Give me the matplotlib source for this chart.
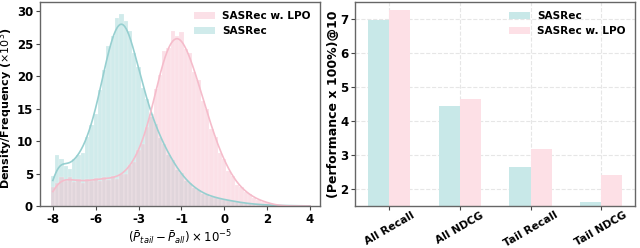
import numpy as np
import matplotlib
matplotlib.use("Agg")
import matplotlib.pyplot as plt
from matplotlib.patches import Patch

# ---- left panel: histogram of (P_tail - P_all), counts in thousands ----
bin_centers = np.round(np.arange(-8.0, 4.01, 0.2), 2)
sasrec_counts = [4.6, 7.8, 7.2, 6.1, 5.7, 7.3, 7.9, 8.2, 10.6, 12.4,
                 14.1, 17.9, 21.0, 24.6, 26.2, 28.9, 29.6, 28.4, 26.9, 23.6,
                 21.4, 18.2, 16.5, 13.7, 12.6, 10.4, 9.6, 7.8, 7.1, 5.6,
                 5.1, 3.9, 3.5, 2.8, 2.5, 1.9, 1.8, 1.4, 1.4, 1.1,
                 1.0, 0.9, 0.8, 0.6, 0.6, 0.4, 0.4, 0.3, 0.25, 0.2,
                 0.18, 0.14, 0.12, 0.1, 0.08, 0.07, 0.06, 0.05, 0.05, 0.04,
                 0.04]
lpo_counts = [3.0, 3.6, 4.5, 3.9, 4.4, 3.7, 4.2, 3.6, 4.1, 3.8,
              4.3, 3.9, 4.5, 4.0, 4.6, 4.2, 5.0, 5.0, 6.3, 6.8,
              8.6, 9.6, 12.2, 14.1, 18.0, 20.2, 23.8, 24.3, 26.9, 26.2,
              26.8, 24.1, 23.6, 20.6, 19.4, 16.1, 14.9, 11.8, 10.6, 8.1,
              7.2, 5.4, 4.6, 3.3, 2.9, 2.1, 1.8, 1.2, 1.0, 0.7,
              0.6, 0.3, 0.15, 0.07, 0.03, 0.02, 0.01, 0.01, 0.01, 0.0,
              0.0]
x_ticks = [-8, -6, -4, -2, 0, 2, 4]
x_ticklabels = ["-8", "-6", "-3", "-1", "0", "2", "4"]

# ---- right panel: performance @10 ----
metrics = ["All Recall", "All NDCG", "Tail Recall", "Tail NDCG"]
sasrec_perf = [6.97, 4.45, 2.64, 1.63]
lpo_perf = [7.26, 4.66, 3.18, 2.40]

teal = "#8fd0d0"
pink = "#f7b7c7"
teal_line = "#96cfd0"
pink_line = "#f5bccb"
binw = 0.2


def smooth_counts(grid, centers, counts, bw=0.3):
    # gaussian kde of the binned counts, scaled to the count axis
    c = np.asarray(centers)[None, :]
    k = np.exp(-0.5 * ((grid[:, None] - c) / bw) ** 2) / (bw * np.sqrt(2 * np.pi))
    return (k * np.asarray(counts)[None, :]).sum(axis=1) * binw


plt.rcParams["font.family"] = ["DejaVu Sans"]

fig = plt.figure(figsize=(6.4, 2.48), dpi=100)
ax1 = fig.add_axes([0.0625, 0.169, 0.4375, 0.823])
ax2 = fig.add_axes([0.555, 0.169, 0.4375, 0.823])

edges = np.round(np.arange(-8.1, 4.11, binw), 2)
ax1.hist(bin_centers, bins=edges, weights=sasrec_counts, color=teal,
         alpha=0.42, edgecolor="white", linewidth=0.3)
ax1.hist(bin_centers, bins=edges, weights=lpo_counts, color=pink,
         alpha=0.42, edgecolor="white", linewidth=0.3)
grid = np.linspace(bin_centers[0], bin_centers[-1], 400)
ax1.plot(grid, smooth_counts(grid, bin_centers, sasrec_counts), color=teal_line, lw=1.2)
ax1.plot(grid, smooth_counts(grid, bin_centers, lpo_counts), color=pink_line, lw=1.2)

ax1.set_ylim(0, 31.4)
ax1.set_xlim(-8.6, 4.47)
ax1.set_xticks(x_ticks)
ax1.set_xticklabels(x_ticklabels)
ax1.set_yticks([0, 5, 10, 15, 20, 25, 30])
ax1.set_ylabel(r"Density/Frequency ($\times 10^3$)", fontsize=8.0,
               fontweight="bold")
ax1.yaxis.set_label_coords(-0.088, 0.48)
ax1.set_xlabel(r"$(\bar{P}_{tail} - \bar{P}_{all}) \times 10^{-5}$",
               fontsize=8.5, labelpad=2)
handles = [Patch(facecolor=pink, alpha=0.42, edgecolor="none"),
           Patch(facecolor=teal, alpha=0.42, edgecolor="none")]
leg1 = ax1.legend(handles, ["SASRec w. LPO", "SASRec"], loc="upper right",
                  frameon=False, handlelength=2.0, handletextpad=0.7,
                  labelspacing=0.45, prop={"size": 7.6, "weight": "bold"})

# right panel bars
x = np.arange(len(metrics))
w = 0.3
ax2.bar(x - w / 2, sasrec_perf, w, color="#c8e8e8", label="SASRec", zorder=2)
ax2.bar(x + w / 2, lpo_perf, w, color="#fde0e6", label="SASRec w. LPO", zorder=2)
ax2.set_ylim(1.5, 7.5)
ax2.set_yticks([2, 3, 4, 5, 6, 7])
ax2.set_xticks(x)
ax2.set_xticklabels(metrics, rotation=30, ha="center")
ax2.set_ylabel("(Performance x 100%)@10", fontsize=9.0, fontweight="bold")
ax2.yaxis.set_label_coords(-0.054, 0.5)
ax2.grid(True, linestyle="--", color="#e6e6e6", lw=0.8, zorder=0)
ax2.legend(loc="upper right", frameon=False, handlelength=2.0,
           handletextpad=0.7, labelspacing=0.45,
           prop={"size": 7.6, "weight": "bold"})

for ax in (ax1, ax2):
    for s in ax.spines.values():
        s.set_color("#666666")
        s.set_linewidth(1.0)
    ax.tick_params(labelsize=8.5, length=3, width=0.8, color="#444444", pad=2)
    for lab in ax.get_xticklabels() + ax.get_yticklabels():
        lab.set_fontweight("bold")
ax2.tick_params(axis="x", labelsize=7.7, pad=0)

fig.savefig("out.png", dpi=100)
